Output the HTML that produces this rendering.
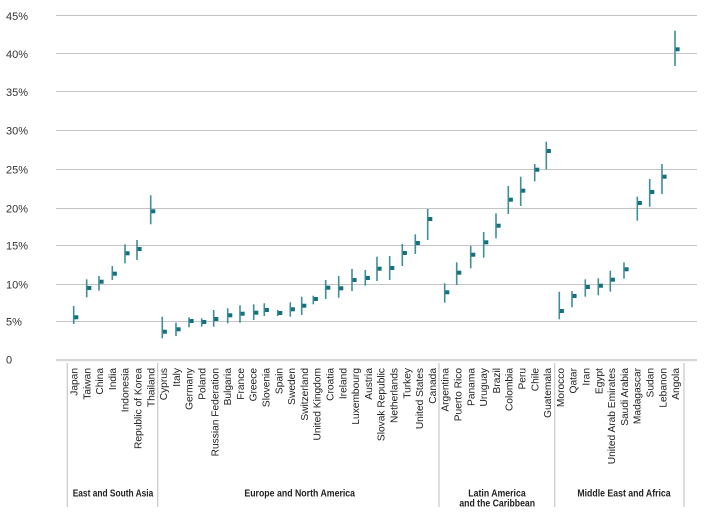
<!DOCTYPE html>
<html>
<head>
<meta charset="utf-8">
<style>
html,body{margin:0;padding:0;background:#fff;}
svg{display:block;}
text{font-family:"Liberation Sans",sans-serif;}
</style>
</head>
<body>
<svg width="704" height="514" viewBox="0 0 704 514" xmlns="http://www.w3.org/2000/svg">
<rect width="704" height="514" fill="#fff"/>
<!-- gridlines -->
<g stroke="#c4c4c4" stroke-width="1">
<line x1="56" x2="697" y1="15.5" y2="15.5"/>
<line x1="56" x2="697" y1="53.5" y2="53.5"/>
<line x1="56" x2="697" y1="91.5" y2="91.5"/>
<line x1="56" x2="697" y1="130.5" y2="130.5"/>
<line x1="56" x2="697" y1="169.5" y2="169.5"/>
<line x1="56" x2="697" y1="208.5" y2="208.5"/>
<line x1="56" x2="697" y1="245.5" y2="245.5"/>
<line x1="56" x2="697" y1="284.5" y2="284.5"/>
<line x1="56" x2="697" y1="321.5" y2="321.5"/>
</g>
<rect x="56" y="359" width="641" height="2.2" fill="#d6d6d6"/>
<!-- y labels -->
<g font-size="11" fill="#333">
<text x="6" y="20">45%</text>
<text x="6" y="58">40%</text>
<text x="6" y="96">35%</text>
<text x="6" y="134.5">30%</text>
<text x="6" y="173.5">25%</text>
<text x="6" y="212.5">20%</text>
<text x="6" y="249.5">15%</text>
<text x="6" y="288.5">10%</text>
<text x="6" y="325.5">5%</text>
<text x="6" y="363.5">0</text>
</g>
<!-- dividers -->
<g stroke="#cccccc" stroke-width="1.3">
<line x1="67.3" x2="67.3" y1="363" y2="507"/>
<line x1="157.7" x2="157.7" y1="363" y2="507"/>
<line x1="439" x2="439" y1="363" y2="507"/>
<line x1="554.7" x2="554.7" y1="363" y2="507"/>
<line x1="684" x2="684" y1="363" y2="507"/>
</g>
<!-- error bars -->
<g stroke="#3f8e9b" stroke-width="1.6">
<line x1="73.7" x2="73.7" y1="306" y2="324"/>
<line x1="86.7" x2="86.7" y1="279.3" y2="297.3"/>
<line x1="99" x2="99" y1="276" y2="290.7"/>
<line x1="112.3" x2="112.3" y1="266" y2="280"/>
<line x1="125" x2="125" y1="244.3" y2="263.3"/>
<line x1="137" x2="137" y1="240" y2="260"/>
<line x1="150.7" x2="150.7" y1="195.3" y2="224.3"/>
<line x1="162.3" x2="162.3" y1="316.7" y2="338.3"/>
<line x1="176" x2="176" y1="322.7" y2="336"/>
<line x1="189" x2="189" y1="317.3" y2="327.3"/>
<line x1="201.7" x2="201.7" y1="318.3" y2="326.7"/>
<line x1="213.7" x2="213.7" y1="310" y2="326.7"/>
<line x1="227.7" x2="227.7" y1="308.3" y2="323.3"/>
<line x1="240" x2="240" y1="305.3" y2="322.7"/>
<line x1="253.7" x2="253.7" y1="304.3" y2="320"/>
<line x1="264.3" x2="264.3" y1="303.3" y2="316"/>
<line x1="277.7" x2="277.7" y1="310" y2="316"/>
<line x1="290.3" x2="290.3" y1="302.3" y2="316.7"/>
<line x1="301.7" x2="301.7" y1="296.7" y2="315"/>
<line x1="313.3" x2="313.3" y1="295.7" y2="304.3"/>
<line x1="325.7" x2="325.7" y1="280" y2="299"/>
<line x1="338.7" x2="338.7" y1="276" y2="297.7"/>
<line x1="352" x2="352" y1="269" y2="291"/>
<line x1="365.3" x2="365.3" y1="270" y2="285.7"/>
<line x1="377" x2="377" y1="256.7" y2="281"/>
<line x1="389.7" x2="389.7" y1="256" y2="280"/>
<line x1="402.3" x2="402.3" y1="244" y2="266"/>
<line x1="415.3" x2="415.3" y1="234.3" y2="254"/>
<line x1="427.7" x2="427.7" y1="209" y2="240"/>
<line x1="444.7" x2="444.7" y1="283.3" y2="302.7"/>
<line x1="456.7" x2="456.7" y1="262.3" y2="285"/>
<line x1="470.7" x2="470.7" y1="246" y2="268.3"/>
<line x1="483.7" x2="483.7" y1="232" y2="257.7"/>
<line x1="496" x2="496" y1="213.3" y2="238.3"/>
<line x1="508.3" x2="508.3" y1="186" y2="214"/>
<line x1="520.7" x2="520.7" y1="176.7" y2="206"/>
<line x1="534.7" x2="534.7" y1="164" y2="181.3"/>
<line x1="546.3" x2="546.3" y1="141.7" y2="169.3"/>
<line x1="559.3" x2="559.3" y1="291.7" y2="319.3"/>
<line x1="572" x2="572" y1="291" y2="307.3"/>
<line x1="585.3" x2="585.3" y1="279.3" y2="296.7"/>
<line x1="598.3" x2="598.3" y1="278.3" y2="295.3"/>
<line x1="610.3" x2="610.3" y1="270.7" y2="291.7"/>
<line x1="624" x2="624" y1="262.3" y2="278.7"/>
<line x1="637.3" x2="637.3" y1="196.7" y2="220.7"/>
<line x1="649.7" x2="649.7" y1="179" y2="206.7"/>
<line x1="662" x2="662" y1="164" y2="194"/>
<line x1="675" x2="675" y1="30.7" y2="66"/>
</g>
<!-- markers -->
<g fill="#14707c">
<rect x="74.3" y="315.3" width="4" height="4"/>
<rect x="87.3" y="286" width="4" height="4"/>
<rect x="99.6" y="279.7" width="4" height="4"/>
<rect x="112.9" y="271.7" width="4" height="4"/>
<rect x="125.6" y="251.3" width="4" height="4"/>
<rect x="137.6" y="247" width="4" height="4"/>
<rect x="151.3" y="209.3" width="4" height="4"/>
<rect x="162.9" y="329.7" width="4" height="4"/>
<rect x="176.6" y="327.3" width="4" height="4"/>
<rect x="189.6" y="319" width="4" height="4"/>
<rect x="202.3" y="320" width="4" height="4"/>
<rect x="214.3" y="317" width="4" height="4"/>
<rect x="228.3" y="313.3" width="4" height="4"/>
<rect x="240.6" y="311.7" width="4" height="4"/>
<rect x="254.3" y="310.7" width="4" height="4"/>
<rect x="264.9" y="308" width="4" height="4"/>
<rect x="278.3" y="311" width="4" height="4"/>
<rect x="290.9" y="307.3" width="4" height="4"/>
<rect x="302.3" y="303.7" width="4" height="4"/>
<rect x="313.9" y="297" width="4" height="4"/>
<rect x="326.3" y="285.7" width="4" height="4"/>
<rect x="339.3" y="286.3" width="4" height="4"/>
<rect x="352.6" y="278" width="4" height="4"/>
<rect x="365.9" y="276" width="4" height="4"/>
<rect x="377.6" y="266.7" width="4" height="4"/>
<rect x="390.3" y="266" width="4" height="4"/>
<rect x="402.9" y="251" width="4" height="4"/>
<rect x="415.9" y="241" width="4" height="4"/>
<rect x="428.3" y="217" width="4" height="4"/>
<rect x="445.3" y="290.3" width="4" height="4"/>
<rect x="457.3" y="270.7" width="4" height="4"/>
<rect x="471.3" y="252.7" width="4" height="4"/>
<rect x="484.3" y="240.3" width="4" height="4"/>
<rect x="496.6" y="223.7" width="4" height="4"/>
<rect x="508.9" y="197.7" width="4" height="4"/>
<rect x="521.3" y="188.7" width="4" height="4"/>
<rect x="535.3" y="167.7" width="4" height="4"/>
<rect x="546.9" y="149" width="4" height="4"/>
<rect x="559.9" y="309" width="4" height="4"/>
<rect x="572.6" y="294" width="4" height="4"/>
<rect x="585.9" y="285" width="4" height="4"/>
<rect x="598.9" y="283.7" width="4" height="4"/>
<rect x="610.9" y="277.7" width="4" height="4"/>
<rect x="624.6" y="267.3" width="4" height="4"/>
<rect x="637.9" y="201" width="4" height="4"/>
<rect x="650.3" y="190" width="4" height="4"/>
<rect x="662.6" y="174.7" width="4" height="4"/>
<rect x="675.6" y="47.3" width="4" height="4"/>
</g>
<!-- category labels -->
<g font-size="10.2" fill="#222" text-anchor="end">
<text transform="translate(77.5,368) rotate(-90)">Japan</text>
<text transform="translate(90.3,368) rotate(-90)">Taiwan</text>
<text transform="translate(103.1,368) rotate(-90)">China</text>
<text transform="translate(115.9,368) rotate(-90)">India</text>
<text transform="translate(128.7,368) rotate(-90)">Indonesia</text>
<text transform="translate(141.5,368) rotate(-90)">Republic of Korea</text>
<text transform="translate(154.3,368) rotate(-90)">Thailand</text>
<text transform="translate(167.1,368) rotate(-90)">Cyprus</text>
<text transform="translate(179.9,368) rotate(-90)">Italy</text>
<text transform="translate(192.7,368) rotate(-90)">Germany</text>
<text transform="translate(205.5,368) rotate(-90)">Poland</text>
<text transform="translate(218.3,368) rotate(-90)">Russian Federation</text>
<text transform="translate(231.1,368) rotate(-90)">Bulgaria</text>
<text transform="translate(243.9,368) rotate(-90)">France</text>
<text transform="translate(256.7,368) rotate(-90)">Greece</text>
<text transform="translate(269.5,368) rotate(-90)">Slovenia</text>
<text transform="translate(282.3,368) rotate(-90)">Spain</text>
<text transform="translate(295.1,368) rotate(-90)">Sweden</text>
<text transform="translate(307.9,368) rotate(-90)">Switzerland</text>
<text transform="translate(320.7,368) rotate(-90)">United Kingdom</text>
<text transform="translate(333.5,368) rotate(-90)">Croatia</text>
<text transform="translate(346.3,368) rotate(-90)">Ireland</text>
<text transform="translate(359.1,368) rotate(-90)">Luxembourg</text>
<text transform="translate(371.9,368) rotate(-90)">Austria</text>
<text transform="translate(384.7,368) rotate(-90)">Slovak Republic</text>
<text transform="translate(397.5,368) rotate(-90)">Netherlands</text>
<text transform="translate(410.3,368) rotate(-90)">Turkey</text>
<text transform="translate(423.1,368) rotate(-90)">United States</text>
<text transform="translate(435.9,368) rotate(-90)">Canada</text>
<text transform="translate(448.7,368) rotate(-90)">Argentina</text>
<text transform="translate(461.5,368) rotate(-90)">Puerto Rico</text>
<text transform="translate(474.3,368) rotate(-90)">Panama</text>
<text transform="translate(487.1,368) rotate(-90)">Uruguay</text>
<text transform="translate(499.9,368) rotate(-90)">Brazil</text>
<text transform="translate(512.7,368) rotate(-90)">Colombia</text>
<text transform="translate(525.5,368) rotate(-90)">Peru</text>
<text transform="translate(538.3,368) rotate(-90)">Chile</text>
<text transform="translate(551.1,368) rotate(-90)">Guatemala</text>
<text transform="translate(563.9,368) rotate(-90)">Morocco</text>
<text transform="translate(576.7,368) rotate(-90)">Qatar</text>
<text transform="translate(589.5,368) rotate(-90)">Iran</text>
<text transform="translate(602.3,368) rotate(-90)">Egypt</text>
<text transform="translate(615.1,368) rotate(-90)">United Arab Emirates</text>
<text transform="translate(627.9,368) rotate(-90)">Saudi Arabia</text>
<text transform="translate(640.7,368) rotate(-90)">Madagascar</text>
<text transform="translate(653.5,368) rotate(-90)">Sudan</text>
<text transform="translate(666.3,368) rotate(-90)">Lebanon</text>
<text transform="translate(679.1,368) rotate(-90)">Angola</text>
</g>
<!-- group labels -->
<g font-size="10" font-weight="bold" fill="#222" text-anchor="middle">
<text x="113" y="496.7" textLength="80.6" lengthAdjust="spacingAndGlyphs">East and South Asia</text>
<text x="299.7" y="496.7" textLength="110.7" lengthAdjust="spacingAndGlyphs">Europe and North America</text>
<text x="497" y="496.7" textLength="57.4" lengthAdjust="spacingAndGlyphs">Latin America</text>
<text x="497.2" y="506.7" textLength="75.7" lengthAdjust="spacingAndGlyphs">and the Caribbean</text>
<text x="624" y="496.7" textLength="93.3" lengthAdjust="spacingAndGlyphs">Middle East and Africa</text>
</g>
</svg>
</body>
</html>
